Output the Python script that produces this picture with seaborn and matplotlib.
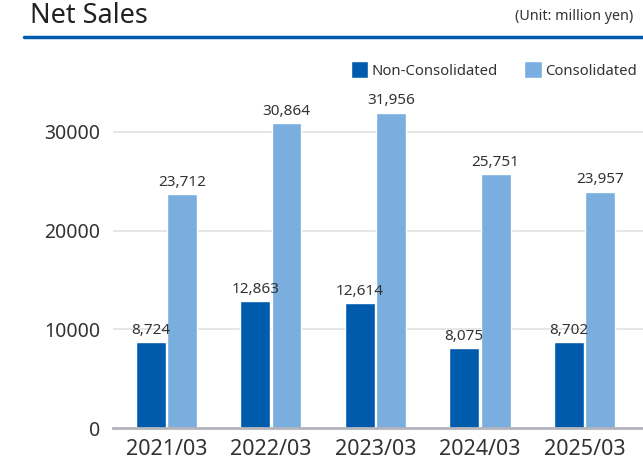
import pandas as pd
import matplotlib.pyplot as plt
import seaborn as sns
from matplotlib.lines import Line2D
from matplotlib.patches import Patch

# Net sales (million yen)
years = ["2021/03", "2022/03", "2023/03", "2024/03", "2025/03"]
non_consolidated = [8724, 12863, 12614, 8075, 8702]
consolidated = [23712, 30864, 31956, 25751, 23957]
series_names = ["Non-Consolidated", "Consolidated"]

df = pd.DataFrame({
    "year": years * 2,
    "sales": non_consolidated + consolidated,
    "type": [series_names[0]] * len(years) + [series_names[1]] * len(years),
})

sns.set_style("white")
plt.rcParams["font.family"] = ["Noto Sans", "DejaVu Sans"]

dark = "#005BAC"
light = "#7AAEDF"

fig = plt.figure(figsize=(6.43, 4.63), dpi=100)
ax = fig.add_axes([113 / 643, 35 / 463, 1 - 113 / 643, 343 / 463])

sns.barplot(data=df, x="year", y="sales", hue="type", palette=[dark, light],
            width=0.6, gap=0.05, ax=ax, saturation=1, legend=False)

for cont in ax.containers:
    ax.bar_label(cont, labels=[f"{v:,.0f}" for v in cont.datavalues],
                 padding=3, fontsize=11, color="#333333")

ax.set_xlim(-0.51, 4.56)
ax.set_ylim(0, 34750)
ax.set_yticks([0, 10000, 20000, 30000])
ax.set_xlabel("")
ax.set_ylabel("")
ax.grid(axis="y", color="#E2E2E2", linewidth=1.2)
ax.set_axisbelow(True)
for s in ["top", "right", "left"]:
    ax.spines[s].set_visible(False)
ax.spines["bottom"].set_color("#B4B4BC")
ax.spines["bottom"].set_linewidth(2)
ax.tick_params(axis="y", length=0, pad=9, labelsize=14, labelcolor="#333333")
ax.tick_params(axis="x", length=0, pad=8, labelsize=15.5, labelcolor="#333333")

handles = [Patch(facecolor=dark, label=series_names[0]),
           Patch(facecolor=light, label=series_names[1])]
fig.legend(handles=handles, loc="center right",
           bbox_to_anchor=(637 / 643, 1 - 70 / 463), ncol=2, frameon=False,
           fontsize=10.7, handlelength=1.15, handleheight=1.4,
           handletextpad=0.25, columnspacing=1.8, borderaxespad=0,
           borderpad=0, labelcolor="#333333")

# header
fig.text(30 / 643, 1 - 23 / 463, "Net Sales", fontsize=19.5, color="#222222",
         va="baseline", ha="left")
fig.text(633 / 643, 1 - 16 / 463, "(Unit: million yen)", fontsize=10.3,
         color="#333333", va="center", ha="right")
fig.add_artist(Line2D([24 / 643, 1.0], [1 - 37 / 463, 1 - 37 / 463],
                      color=dark, linewidth=2.5, transform=fig.transFigure))

fig.savefig("out.png", dpi=100)
